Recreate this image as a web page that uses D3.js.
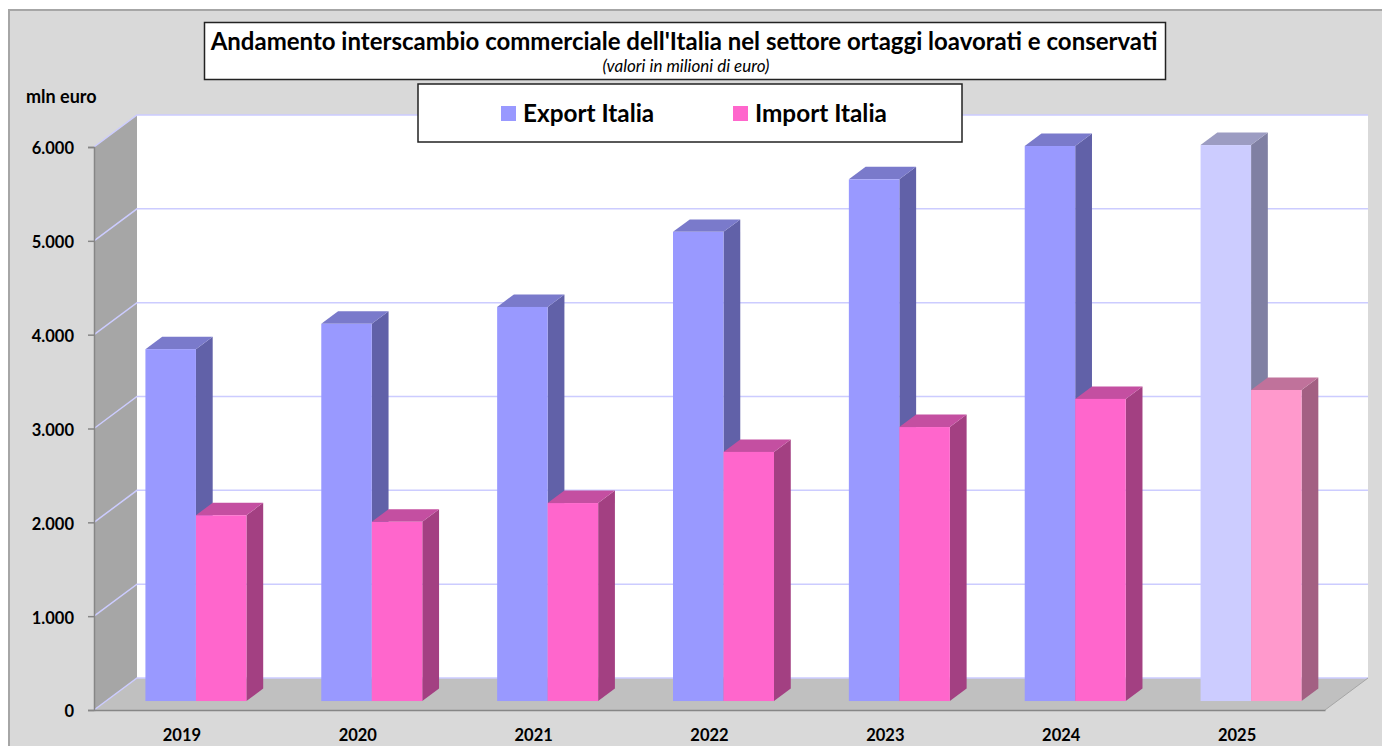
<!DOCTYPE html>
<html>
<head>
<meta charset="utf-8">
<script src="https://cdn.jsdelivr.net/npm/d3@7"></script>
<style>
  html, body { margin: 0; padding: 0; background: #fff; }
  svg { display: block; }
  text { font-family: Lato, "Open Sans", sans-serif; fill: #000; }
</style>
</head>
<body>
<div id="chart"></div>
<script>
/**
 * DATA
 * */
const years = ["2019", "2020", "2021", "2022", "2023", "2024", "2025"];
const exportValues = [3750, 4020, 4200, 5000, 5560, 5915, 5925];
const importValues = [1980, 1910, 2110, 2655, 2920, 3220, 3315];
const yTicks = [0, 1000, 2000, 3000, 4000, 5000, 6000];
const seriesNames = ["Export Italia", "Import Italia"];
const projectedYear = "2025";

/**
 * CONSTANTS
 * */
const width = 1382,
  height = 746,
  plot = { left: 94, right: 1325, top: 147, bottom: 710 },
  depth = { x: 43, y: -32 },
  barFront = 0.28, // where the bars start inside the depth of the floor
  barDepth = 0.39;

const colors = {
  export: { front: "#9999ff", side: "#6161a8", top: "#7a7acb" },
  import: { front: "#ff66cc", side: "#a34082", top: "#c44fa1" },
  exportFaded: { front: "#ccccff", side: "#8080a3", top: "#9c9cc2" },
  importFaded: { front: "#ff99cc", side: "#a36083", top: "#c0729b" },
};

const svg = d3.select("#chart").append("svg")
  .attr("width", width)
  .attr("height", height);

// SCALES
const xScale = d3.scaleBand().domain(years).range([plot.left, plot.right]);
const yScale = d3.scaleLinear().domain([0, 6000]).range([plot.bottom, plot.top]);
const formatIt = d => d3.format(",")(d).replace(/,/g, ".");
const poly = pts => pts.map(p => p.join(",")).join(" ");

// BACKGROUND
svg.append("rect")
  .attr("x", 9).attr("y", 10)
  .attr("width", width).attr("height", height)
  .attr("fill", "#d9d9d9")
  .attr("stroke", "#a6a6a6")
  .attr("stroke-width", 2);

// WALLS AND FLOOR
svg.append("polygon")
  .attr("points", poly([
    [plot.left + depth.x, plot.top + depth.y],
    [plot.right + depth.x, plot.top + depth.y],
    [plot.right + depth.x, plot.bottom + depth.y],
    [plot.left + depth.x, plot.bottom + depth.y],
  ]))
  .attr("fill", "#fff");

svg.append("polygon")
  .attr("points", poly([
    [plot.left, plot.top],
    [plot.left + depth.x, plot.top + depth.y],
    [plot.left + depth.x, plot.bottom + depth.y],
    [plot.left, plot.bottom],
  ]))
  .attr("fill", "#a6a6a6");

svg.append("polygon")
  .attr("points", poly([
    [plot.left, plot.bottom],
    [plot.left + depth.x, plot.bottom + depth.y],
    [plot.right + depth.x, plot.bottom + depth.y],
    [plot.right, plot.bottom],
  ]))
  .attr("fill", "#c0c0c0");

// GRIDLINES
svg.append("g")
  .selectAll("polyline")
  .data(yTicks)
  .join("polyline")
  .attr("points", d => poly([
    [plot.left, yScale(d)],
    [plot.left + depth.x, yScale(d) + depth.y],
    [plot.right + depth.x, yScale(d) + depth.y],
  ]))
  .attr("fill", "none")
  .attr("stroke", "#ccccff")
  .attr("stroke-width", 1.5);

// floor edge on the right side
svg.append("line")
  .attr("x1", plot.right).attr("y1", plot.bottom)
  .attr("x2", plot.right + depth.x).attr("y2", plot.bottom + depth.y)
  .attr("stroke", "#a6a6a6")
  .attr("stroke-width", 1);

// AXES
const yAxis = d3.axisLeft(yScale)
  .tickValues(yTicks)
  .tickFormat(formatIt)
  .tickSize(6)
  .tickPadding(14);

const yAxisG = svg.append("g")
  .attr("transform", `translate(${plot.left},0)`)
  .call(yAxis);
yAxisG.select(".domain").attr("stroke", "#868686").attr("stroke-width", 1.5);
yAxisG.selectAll(".tick line").attr("stroke", "#868686").attr("stroke-width", 1.5);
yAxisG.selectAll(".tick text")
  .attr("font-size", 16.5)
  .attr("font-weight", 700)
  .attr("dy", "0.42em")
  .style("font-family", "Lato");

const xAxis = d3.axisBottom(xScale).tickSize(0).tickPadding(19);
const xAxisG = svg.append("g")
  .attr("transform", `translate(0,${plot.bottom})`)
  .call(xAxis);
xAxisG.select(".domain").attr("stroke", "#868686").attr("stroke-width", 1.5);
xAxisG.selectAll(".tick text")
  .attr("font-size", 16.5)
  .attr("font-weight", 700)
  .style("font-family", "Lato");

// BARS
const barWidth = 50.5;
const frontX = 14,
  frontY = barFront * depth.y,
  sideX = barDepth * depth.x,
  sideY = barDepth * depth.y;
const baseY = plot.bottom + frontY;
const barH = v => yScale(0) - yScale(v);

function drawBar(g, year, value, i, c) {
  const x0 = xScale(year) + xScale.bandwidth() / 2 + frontX - barWidth + i * barWidth,
    x1 = x0 + barWidth,
    yTop = baseY - barH(value);
  // side face
  g.append("polygon")
    .attr("points", poly([
      [x1, yTop], [x1 + sideX, yTop + sideY],
      [x1 + sideX, baseY + sideY], [x1, baseY],
    ]))
    .attr("fill", c.side);
  // top face
  g.append("polygon")
    .attr("points", poly([
      [x0, yTop], [x0 + sideX, yTop + sideY],
      [x1 + sideX, yTop + sideY], [x1, yTop],
    ]))
    .attr("fill", c.top);
  // front face
  g.append("rect")
    .attr("x", x0).attr("y", yTop)
    .attr("width", barWidth).attr("height", baseY - yTop)
    .attr("fill", c.front);
}

years.forEach((year, idx) => {
  const g = svg.append("g").attr("class", "year-" + year);
  const faded = year === projectedYear;
  drawBar(g, year, exportValues[idx], 0, faded ? colors.exportFaded : colors.export);
  drawBar(g, year, importValues[idx], 1, faded ? colors.importFaded : colors.import);
});

// TITLE BOX
svg.append("rect")
  .attr("x", 204.5).attr("y", 22.5)
  .attr("width", 961).attr("height", 57)
  .attr("fill", "#fff")
  .attr("stroke", "#222")
  .attr("stroke-width", 1.5);

svg.append("text")
  .attr("x", 684).attr("y", 50)
  .attr("text-anchor", "middle")
  .attr("font-size", 24)
  .attr("font-weight", 700)
  .text("Andamento interscambio commerciale dell'Italia nel settore ortaggi loavorati e conservati");

svg.append("text")
  .attr("x", 686).attr("y", 72)
  .attr("text-anchor", "middle")
  .attr("font-size", 17)
  .attr("font-style", "italic")
  .text("(valori in milioni di euro)");

svg.append("text")
  .attr("x", 26).attr("y", 103)
  .attr("font-size", 18)
  .attr("font-weight", 700)
  .text("mln euro");

// LEGEND
svg.append("rect")
  .attr("x", 418).attr("y", 84)
  .attr("width", 544).attr("height", 58)
  .attr("fill", "#fff")
  .attr("stroke", "#222")
  .attr("stroke-width", 1.5);

const legendX = [501, 733];
const legendColors = [colors.export.front, colors.import.front];
const legend = svg.append("g")
  .selectAll("g")
  .data(seriesNames)
  .join("g")
  .attr("transform", (d, i) => `translate(${legendX[i]},0)`);
legend.append("rect")
  .attr("y", 106)
  .attr("width", 15).attr("height", 15)
  .attr("fill", (d, i) => legendColors[i]);
legend.append("text")
  .attr("x", 22).attr("y", 122)
  .attr("font-size", 24.3)
  .attr("font-weight", 700)
  .text(d => d);
</script>
</body>
</html>
